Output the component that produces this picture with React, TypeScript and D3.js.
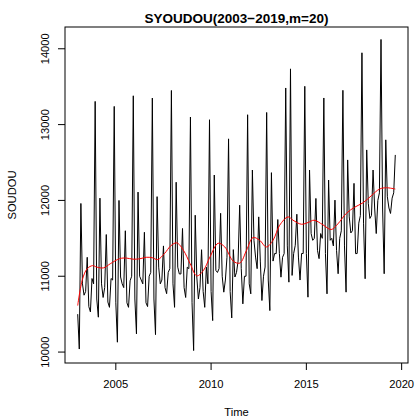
import React from "react";
import * as d3 from "d3";

// Monthly series, Jan 2003 .. Sep 2019
const START_YEAR = 2003;
const soudou: number[] = [
  // 2003
  10500, 10040, 11960, 10900, 10750, 10800, 11250, 10600, 10530, 10970, 10900, 13306,
  // 2004
  10700, 10460, 12030, 10900, 10720, 10850, 11550, 10660, 10590, 10970, 10950, 13240,
  // 2005
  10650, 10130, 12000, 10990, 10900, 10850, 11600, 10650, 10590, 10940, 11000, 13380,
  // 2006
  10700, 10240, 12110, 11000, 10950, 10900, 11580, 10650, 10600, 11000, 11050, 13350,
  // 2007
  10700, 10230, 12050, 11120, 10900, 10950, 11400, 10850, 10770, 11050, 11100, 13450,
  // 2008
  10900, 10590, 12240, 11120, 11030, 11030, 11630, 10850, 10720, 11120, 11100, 13100,
  // 2009
  10650, 10020, 11805, 10990, 10700, 10850, 11350, 10800, 10590, 11120, 10900, 13064,
  // 2010
  10800, 10415, 12335, 11077, 11050, 11100, 11830, 11000, 10790, 10950, 11250, 12812,
  // 2011
  10800, 10450, 11351, 10990, 11050, 11200, 11937, 11100, 10636, 11000, 11000, 13130,
  // 2012
  10900, 10768, 12401, 11474, 11253, 11100, 11783, 11200, 10680, 11000, 11121, 13160,
  // 2013
  10950, 10547, 12366, 11200, 11300, 11298, 11748, 11300, 10988, 11250, 11298, 13483,
  // 2014
  11400, 10922, 13735, 11011, 11300, 11408, 11818, 11253, 10950, 11300, 11300, 13505,
  // 2015
  11300, 10724, 12401, 11563, 11474, 11500, 12026, 11342, 11232, 11563, 11500, 13351,
  // 2016
  11300, 10768, 12269, 11474, 11500, 11400, 12004, 11342, 11033, 11500, 11600, 13452,
  // 2017
  11400, 10790, 12534, 11783, 11571, 11600, 12225, 11298, 11300, 11700, 11800, 13947,
  // 2018
  11700, 10967, 12666, 11960, 11762, 11800, 12401, 11900, 11563, 12000, 12100, 14123,
  // 2019
  11900, 11033, 12799, 12048, 11900, 11828, 12030, 12100, 12600,
];

// Smoothed trend (m=20), sampled along time
const trendTime: number[] = [
  2003.0, 2003.25, 2003.5, 2003.78, 2004.0, 2004.35, 2004.71, 2005.2, 2005.55, 2005.9,
  2006.25, 2006.6, 2006.9, 2007.2, 2007.55, 2007.9, 2008.2, 2008.55, 2008.9, 2009.25,
  2009.6, 2009.94, 2010.37, 2010.72, 2011.16, 2011.51, 2011.86, 2012.2, 2012.55, 2012.9,
  2013.25, 2013.6, 2014.04, 2014.3, 2014.74, 2015.1, 2015.4, 2015.86, 2016.3, 2016.65,
  2017.1, 2017.53, 2017.98, 2018.4, 2018.84, 2019.2, 2019.667,
];
const trendValue: number[] = [
  10613, 10960, 11100, 11140, 11121, 11110, 11165, 11232, 11240, 11225,
  11230, 11250, 11245, 11220, 11298, 11405, 11440, 11342, 11165, 11005,
  11077, 11254, 11435, 11386, 11200, 11174, 11342, 11510, 11474, 11386,
  11474, 11673, 11783, 11739, 11686, 11710, 11739, 11680, 11616, 11690,
  11830, 11910, 11970, 12060, 12150, 12167, 12150,
];

const xTicks: number[] = [2005, 2010, 2015, 2020];
const yTicks: number[] = [10000, 11000, 12000, 13000, 14000];

const W = 415;
const H = 417;
const PLOT = { left: 65, right: 408, top: 27, bottom: 363 };
const FONT = "'Liberation Sans', Arial, Helvetica, sans-serif";

export default function App() {
  const times = soudou.map((_, i) => START_YEAR + i / 12);
  const tMin = d3.min(times)!;
  const tMax = d3.max(times)!;
  const vMin = d3.min(soudou)!;
  const vMax = d3.max(soudou)!;
  const tPad = (tMax - tMin) * 0.04;
  const vPad = (vMax - vMin) * 0.04;

  const x = d3.scaleLinear().domain([tMin - tPad, tMax + tPad]).range([PLOT.left, PLOT.right]);
  const y = d3.scaleLinear().domain([vMin - vPad, vMax + vPad]).range([PLOT.bottom, PLOT.top]);

  const seriesLine = d3
    .line<number>()
    .x((_, i) => x(times[i]))
    .y((d) => y(d));

  const trendLine = d3
    .line<number>()
    .x((_, i) => x(trendTime[i]))
    .y((d) => y(d))
    .curve(d3.curveCatmullRom.alpha(0.5));

  const tickLen = 7;
  const midX = (PLOT.left + PLOT.right) / 2;
  const midY = (PLOT.top + PLOT.bottom) / 2;

  return (
    <svg
      width={W}
      height={H}
      style={{ position: "absolute", left: 0, top: 0, background: "#fff" }}
      fontFamily={FONT}
    >
      <rect x={0} y={0} width={W} height={H} fill="#fff" />

      {/* series */}
      <path d={seriesLine(soudou) || ""} fill="none" stroke="#000" strokeWidth={1} strokeLinejoin="round" />
      {/* trend */}
      <path d={trendLine(trendValue) || ""} fill="none" stroke="#ff0000" strokeWidth={1} />

      {/* frame */}
      <rect
        x={PLOT.left}
        y={PLOT.top}
        width={PLOT.right - PLOT.left}
        height={PLOT.bottom - PLOT.top}
        fill="none"
        stroke="#000"
        strokeWidth={1}
      />

      {/* x axis */}
      {xTicks.map((t) => (
        <g key={`x${t}`}>
          <line x1={x(t)} x2={x(t)} y1={PLOT.bottom} y2={PLOT.bottom + tickLen} stroke="#000" />
          <text x={x(t)} y={388} fontSize={11.2} textAnchor="middle" fill="#000">
            {t}
          </text>
        </g>
      ))}

      {/* y axis */}
      {yTicks.map((v) => (
        <g key={`y${v}`}>
          <line x1={PLOT.left - tickLen} x2={PLOT.left} y1={y(v)} y2={y(v)} stroke="#000" />
          <text
            transform={`translate(49,${y(v)}) rotate(-90)`}
            fontSize={11.2}
            textAnchor="middle"
            fill="#000"
          >
            {v}
          </text>
        </g>
      ))}

      {/* titles */}
      <text x={midX} y={23} fontSize={13.5} fontWeight="bold" textAnchor="middle" fill="#000">
        SYOUDOU(2003−2019,m=20)
      </text>
      <text x={midX} y={416} fontSize={11.2} textAnchor="middle" fill="#000">
        Time
      </text>
      <text
        transform={`translate(16,${midY}) rotate(-90)`}
        fontSize={11.2}
        textAnchor="middle"
        fill="#000"
      >
        SOUDOU
      </text>
    </svg>
  );
}
